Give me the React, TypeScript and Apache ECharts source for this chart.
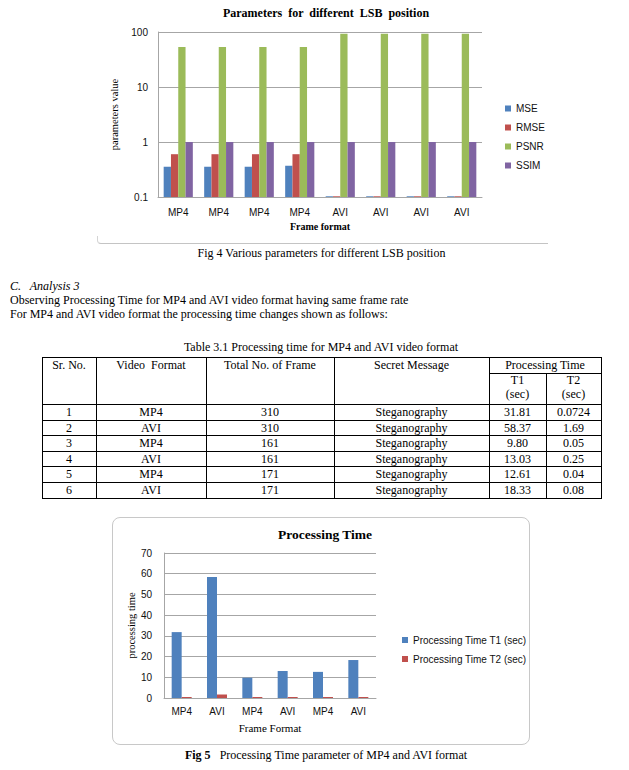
import React, { useEffect, useRef } from 'react';
import * as echarts from 'echarts';

// ---- Fig 4 data ----
const frameFormats = ['MP4', 'MP4', 'MP4', 'MP4', 'AVI', 'AVI', 'AVI', 'AVI'];
const mseValues = [0.355, 0.355, 0.355, 0.37, 0.103, 0.103, 0.103, 0.103];
const rmseValues = [0.6, 0.6, 0.6, 0.6, 0.103, 0.103, 0.103, 0.103];
const psnrValues = [53.5, 53.5, 53.5, 53.5, 93, 93, 93, 93];
const ssimValues = [1, 1, 1, 1, 1, 1, 1, 1];
const logTickLabels = ['0.1', '1', '10', '100'];
const fig4Legend = ['MSE', 'RMSE', 'PSNR', 'SSIM'];

// ---- Table 3.1 data ----
const srNo = ['1', '2', '3', '4', '5', '6'];
const videoFormats = ['MP4', 'AVI', 'MP4', 'AVI', 'MP4', 'AVI'];
const totalFrames = ['310', '310', '161', '161', '171', '171'];
const secretMessages = ['Steganography', 'Steganography', 'Steganography', 'Steganography', 'Steganography', 'Steganography'];
const t1Labels = ['31.81', '58.37', '9.80', '13.03', '12.61', '18.33'];
const t2Labels = ['0.0724', '1.69', '0.05', '0.25', '0.04', '0.08'];

// ---- Fig 5 data ----
const procCategories = ['MP4', 'AVI', 'MP4', 'AVI', 'MP4', 'AVI'];
const t1Values = [31.81, 58.37, 9.8, 13.03, 12.61, 18.33];
const t2Values = [0.0724, 1.69, 0.05, 0.25, 0.04, 0.08];

const SANS = 'Liberation Sans';
const SERIF = 'Liberation Serif';
const GRID = '#a6a6a6';

const toLogPos = (v: number) => Math.log10(v) + 1;

function fig4Option(): any {
  const mk = (name: string, vals: number[], color: string) => ({
    name,
    type: 'bar',
    data: vals.map(toLogPos),
    itemStyle: { color },
    barGap: '0%',
    barCategoryGap: '28%',
  });
  return {
    animation: false,
    title: {
      text: 'Parameters  for  different  LSB  position',
      left: 321,
      top: 2,
      textAlign: 'center',
      textStyle: { fontFamily: SERIF, fontSize: 12, fontWeight: 'bold', color: '#000' },
    },
    legend: {
      orient: 'vertical',
      left: 500,
      top: 98,
      itemWidth: 6,
      itemHeight: 6,
      itemGap: 8,
      icon: 'rect',
      data: fig4Legend,
      textStyle: { fontFamily: SANS, fontSize: 10, color: '#111', lineHeight: 11 },
    },
    grid: { left: 158, top: 32, width: 324, height: 165 },
    xAxis: {
      type: 'category',
      data: frameFormats,
      axisTick: { show: false },
      axisLine: { lineStyle: { color: GRID } },
      axisLabel: { margin: 10, fontFamily: SANS, fontSize: 10, color: '#111' },
      name: 'Frame format',
      nameLocation: 'middle',
      nameGap: 24,
      nameTextStyle: { fontFamily: SERIF, fontSize: 10, fontWeight: 'bold', color: '#000' },
    },
    yAxis: {
      type: 'value',
      min: 0,
      max: 3,
      interval: 1,
      axisLine: { show: true, lineStyle: { color: GRID } },
      axisTick: { show: false },
      splitLine: { lineStyle: { color: GRID } },
      axisLabel: {
        margin: 10,
        fontFamily: SANS,
        fontSize: 10,
        color: '#111',
        formatter: (v: number) => logTickLabels[Math.round(v)],
      },
      name: 'parameters value',
      nameLocation: 'middle',
      nameGap: 35,
      nameTextStyle: { fontFamily: SERIF, fontSize: 10.5, color: '#000' },
    },
    series: [
      mk('MSE', mseValues, '#4F81BD'),
      mk('RMSE', rmseValues, '#C0504D'),
      mk('PSNR', psnrValues, '#9BBB59'),
      mk('SSIM', ssimValues, '#8064A2'),
    ],
  };
}

function fig5Option(): any {
  return {
    animation: false,
    title: {
      text: 'Processing Time',
      left: 320,
      top: 12,
      textAlign: 'center',
      textStyle: { fontFamily: SERIF, fontSize: 13.5, fontWeight: 'bold', color: '#000' },
    },
    legend: {
      orient: 'vertical',
      left: 397,
      top: 119,
      itemWidth: 6,
      itemHeight: 6,
      itemGap: 7,
      icon: 'rect',
      data: ['Processing Time T1 (sec)', 'Processing Time T2 (sec)'],
      textStyle: { fontFamily: SANS, fontSize: 10, color: '#111', lineHeight: 12 },
    },
    grid: { left: 164, top: 43, width: 212, height: 145 },
    xAxis: {
      type: 'category',
      data: procCategories,
      axisTick: { show: false },
      axisLine: { lineStyle: { color: GRID } },
      axisLabel: { margin: 8, fontFamily: SANS, fontSize: 10, color: '#111' },
      name: 'Frame Format',
      nameLocation: 'middle',
      nameGap: 24,
      nameTextStyle: { fontFamily: SERIF, fontSize: 11, color: '#000' },
    },
    yAxis: {
      type: 'value',
      min: 0,
      max: 70,
      interval: 10,
      axisLine: { show: true, lineStyle: { color: GRID } },
      axisTick: { show: false },
      splitLine: { lineStyle: { color: GRID } },
      axisLabel: { margin: 12, fontFamily: SANS, fontSize: 10, color: '#111' },
      name: 'processing time',
      nameLocation: 'middle',
      nameGap: 23,
      nameTextStyle: { fontFamily: SERIF, fontSize: 10.5, color: '#000' },
    },
    series: [
      {
        name: 'Processing Time T1 (sec)',
        type: 'bar',
        data: t1Values,
        barWidth: 10,
        barGap: '0%',
        itemStyle: { color: '#4F81BD' },
      },
      {
        name: 'Processing Time T2 (sec)',
        type: 'bar',
        data: t2Values,
        barWidth: 10,
        barGap: '0%',
        barMinHeight: 1,
        itemStyle: { color: '#C0504D' },
      },
    ],
  };
}

const txt: React.CSSProperties = {
  position: 'absolute',
  fontFamily: SERIF,
  fontSize: 12,
  lineHeight: '14px',
  color: '#000',
  whiteSpace: 'pre',
};

function Centered({ cx, top, children, style }: { cx: number; top: number; children: React.ReactNode; style?: React.CSSProperties }) {
  return (
    <div style={{ ...txt, left: cx - 300, width: 600, top, textAlign: 'center', ...style }}>{children}</div>
  );
}

function HLine({ x1, x2, y }: { x1: number; x2: number; y: number }) {
  return <div style={{ position: 'absolute', left: x1, top: y, width: x2 - x1 + 1, height: 1, background: '#000' }} />;
}
function VLine({ x, y1, y2 }: { x: number; y1: number; y2: number }) {
  return <div style={{ position: 'absolute', left: x, top: y1, width: 1, height: y2 - y1 + 1, background: '#000' }} />;
}

const rowY = [404, 420, 435, 451, 466, 482, 498];

function Table() {
  const centers = [69, 151, 270, 411.5, 517.5, 573.5];
  const els: React.ReactNode[] = [];
  els.push(<HLine key="t" x1={42} x2={601} y={357} />);
  els.push(<HLine key="pt" x1={489} x2={601} y={373} />);
  rowY.forEach((y, i) => els.push(<HLine key={'h' + i} x1={42} x2={601} y={y} />));
  [42, 96, 206, 334, 489, 601].forEach((x, i) => els.push(<VLine key={'v' + i} x={x} y1={357} y2={498} />));
  els.push(<VLine key="vt" x={546} y1={373} y2={498} />);
  const headers = ['Sr. No.', 'Video  Format', 'Total No. of Frame', 'Secret Message'];
  headers.forEach((h, i) => els.push(<Centered key={'hd' + i} cx={centers[i]} top={358}>{h}</Centered>));
  els.push(<Centered key="ptt" cx={545} top={358}>Processing Time</Centered>);
  els.push(<Centered key="t1" cx={517.5} top={373}>T1</Centered>);
  els.push(<Centered key="t2" cx={573.5} top={373}>T2</Centered>);
  els.push(<Centered key="s1" cx={517.5} top={387}>(sec)</Centered>);
  els.push(<Centered key="s2" cx={573.5} top={387}>(sec)</Centered>);
  const cols = [srNo, videoFormats, totalFrames, secretMessages, t1Labels, t2Labels];
  for (let r = 0; r < 6; r++) {
    const top = (rowY[r] + rowY[r + 1]) / 2 - 7;
    cols.forEach((c, ci) =>
      els.push(
        <Centered key={`c${r}-${ci}`} cx={centers[ci]} top={top}>
          {c[r]}
        </Centered>
      )
    );
  }
  return <>{els}</>;
}

export default function App() {
  const ref1 = useRef<HTMLDivElement>(null);
  const ref2 = useRef<HTMLDivElement>(null);
  useEffect(() => {
    const c1 = echarts.init(ref1.current!, undefined, { renderer: 'svg' });
    c1.setOption(fig4Option());
    const c2 = echarts.init(ref2.current!, undefined, { renderer: 'svg' });
    c2.setOption(fig5Option());
    return () => {
      c1.dispose();
      c2.dispose();
    };
  }, []);
  return (
    <div style={{ position: 'absolute', left: 0, top: 0, width: 629, height: 770, background: '#fff', overflow: 'hidden' }}>
      <div
        style={{
          position: 'absolute',
          left: 97,
          top: 236,
          width: 450,
          height: 7,
          borderLeft: '1px solid #d4d4d4',
          borderBottom: '1px solid #c4c4c4',
          borderBottomLeftRadius: 4,
        }}
      />
      <div ref={ref1} style={{ position: 'absolute', left: 0, top: 0, width: 629, height: 240 }} />
      <Centered cx={321.5} top={246}>Fig 4 Various parameters for different LSB position</Centered>

      <div style={{ ...txt, left: 10, top: 279, fontStyle: 'italic' }}>{'C.   Analysis 3'}</div>
      <div style={{ ...txt, left: 10, top: 293 }}>Observing Processing Time for MP4 and AVI video format having same frame rate</div>
      <div style={{ ...txt, left: 10, top: 307 }}>For MP4 and AVI video format the processing time changes shown as follows:</div>
      <Centered cx={321} top={340}>Table 3.1 Processing time for MP4 and AVI video format</Centered>
      <Table />

      <div
        style={{
          position: 'absolute',
          left: 112,
          top: 517,
          width: 418,
          height: 228,
          boxSizing: 'border-box',
          border: '1px solid #c8c8c8',
          borderRadius: 8,
        }}
      />
      <div ref={ref2} style={{ position: 'absolute', left: 0, top: 510, width: 629, height: 240 }} />
      <Centered cx={326} top={748}>
        <b>Fig 5</b>
        {'   Processing Time parameter of MP4 and AVI format'}
      </Centered>
    </div>
  );
}
